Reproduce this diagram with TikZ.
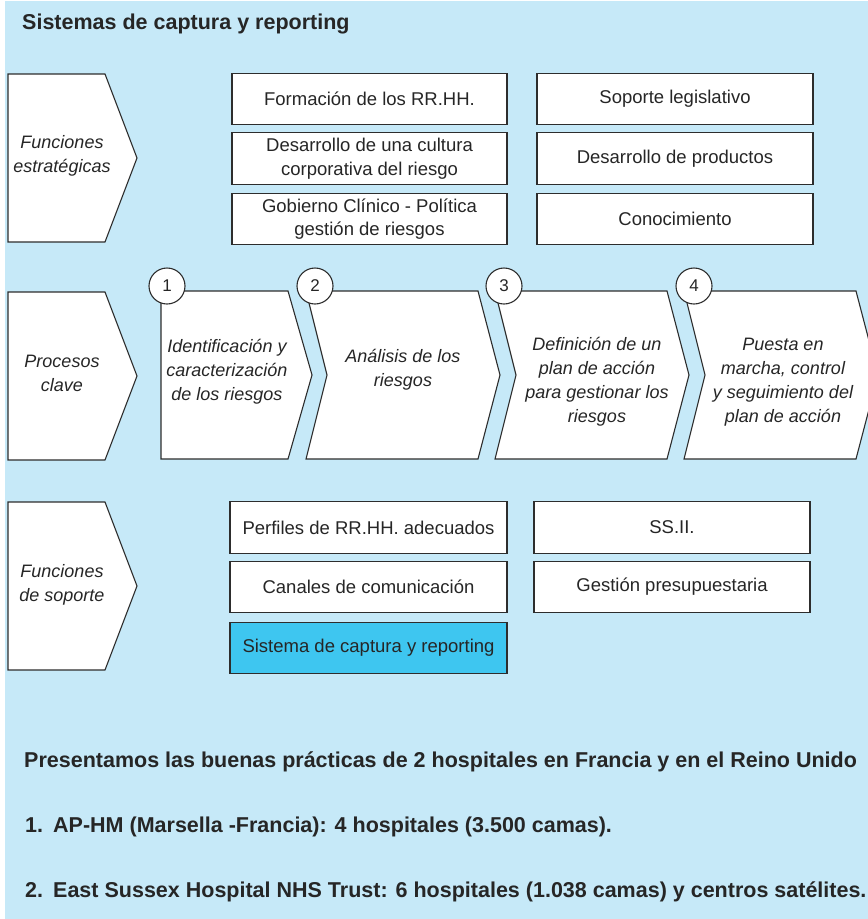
\documentclass[tikz,border=0pt]{standalone}
\usepackage{fontspec}
\setmainfont{Liberation Sans}
\definecolor{panelbg}{RGB}{198,233,248}
\definecolor{hilite}{RGB}{62,198,240}
\definecolor{edge}{RGB}{45,45,45}
\definecolor{ink}{RGB}{38,38,38}
\newcommand{\boxfnt}{\fontsize{18.5}{23.5}\selectfont}
\newcommand{\itfnt}{\itshape\fontsize{18}{24}\selectfont}
\newcommand{\numfnt}{\fontsize{17}{20}\selectfont}
\newcommand{\headfnt}{\bfseries\fontsize{21.5}{25}\selectfont}
\begin{document}
\begin{tikzpicture}[x=1pt,y=-1pt,
  box/.style={draw=edge, line width=1.1pt, fill=white, minimum width=275pt,
    minimum height=51.5pt, inner sep=0pt, font=\boxfnt, text=ink, align=center},
  hibox/.style={box, fill=hilite},
  chev/.style={draw=edge, line width=1.1pt, fill=white, line join=miter},
  lbl/.style={font=\itfnt, text=ink, align=center, inner sep=0pt},
  num/.style={circle, draw=edge, fill=white, line width=1.1pt, minimum size=36pt,
    inner sep=0pt, font=\numfnt, text=ink},
  head/.style={anchor=base west, font=\headfnt, text=ink, inner sep=0pt}]
\useasboundingbox (0,0) rectangle (868,919);
\clip (0,0) rectangle (868,919);
\fill[white] (0,0) rectangle (868,919);
\fill[panelbg] (5,1) rectangle (868,919);

% title
\node[head] (title) at (22,29) {Sistemas de captura y reporting};

% left-hand row chevrons
\draw[chev] (8,74) -- (105,74) -- (137,158) -- (105,242) -- (8,242) -- cycle;
\draw[chev] (8,292) -- (105,292) -- (137,376) -- (105,460) -- (8,460) -- cycle;
\draw[chev] (8,502) -- (105,502) -- (137,586) -- (105,670) -- (8,670) -- cycle;
\node[lbl] (estr) at (62,156) {Funciones\\estratégicas};
\node[lbl] (proc) at (62,373) {Procesos\\clave};
\node[lbl] (sopo) at (62,585) {Funciones\\de soporte};

% strategic functions
\node[box] (f1) at (369.5,99) {Formación de los RR.HH.};
\node[box] (f2) at (369.5,158.5) {Desarrollo de una cultura\\corporativa del riesgo};
\node[box] (f3) at (369.5,219) {Gobierno Clínico - Política\\gestión de riesgos};
\node[box, minimum width=276pt] (f4) at (675,99) {Soporte legislativo};
\node[box, minimum width=276pt] (f5) at (675,158.5) {Desarrollo de productos};
\node[box, minimum width=276pt] (f6) at (675,219) {Conocimiento};

% key processes
\draw[chev] (161,291) -- (288,291) -- (312,375) -- (288,459) -- (161,459) -- cycle;
\foreach \L in {306,495,684}{
  \draw[chev] (\L,291) -- (\L+172,291) -- (\L+194,375) -- (\L+172,459)
    -- (\L,459) -- (\L+21,375) -- cycle;
}
\node[lbl] (p1) at (227,372) {Identificación y\\caracterización\\de los riesgos};
\node[lbl] (p2) at (403,370) {Análisis de los\\riesgos};
\node[lbl] (p3) at (597,382) {Definición de un\\plan de acción\\para gestionar los\\riesgos};
\node[lbl] (p4) at (783,382) {Puesta en\\marcha, control\\y seguimiento del\\plan de acción};
\node[num] (n1) at (167,286) {1};
\node[num] (n2) at (315,286) {2};
\node[num] (n3) at (504,286) {3};
\node[num] (n4) at (694,286) {4};

% support functions
\node[box, minimum width=277pt] (s1) at (368.5,527.5) {Perfiles de RR.HH. adecuados};
\node[box, minimum width=277pt] (s2) at (368.5,587) {Canales de comunicación};
\node[hibox, minimum width=277pt] (s3) at (368.5,648) {Sistema de captura y reporting};
\node[box, minimum width=276pt] (s4) at (672,527.5) {SS.II.};
\node[box, minimum width=276pt] (s5) at (672,587) {Gestión presupuestaria};

% closing notes
\node[head] (t1) at (24,767) {Presentamos las buenas prácticas de 2 hospitales en Francia y en el Reino Unido};
\node[head] (t2) at (25,832) {\makebox[28pt][l]{1.}AP-HM (Marsella -Francia): 4 hospitales (3.500 camas).};
\node[head] (t3) at (25,897) {\makebox[28pt][l]{2.}East Sussex Hospital NHS Trust: 6 hospitales (1.038 camas) y centros satélites.};
\end{tikzpicture}
\end{document}
